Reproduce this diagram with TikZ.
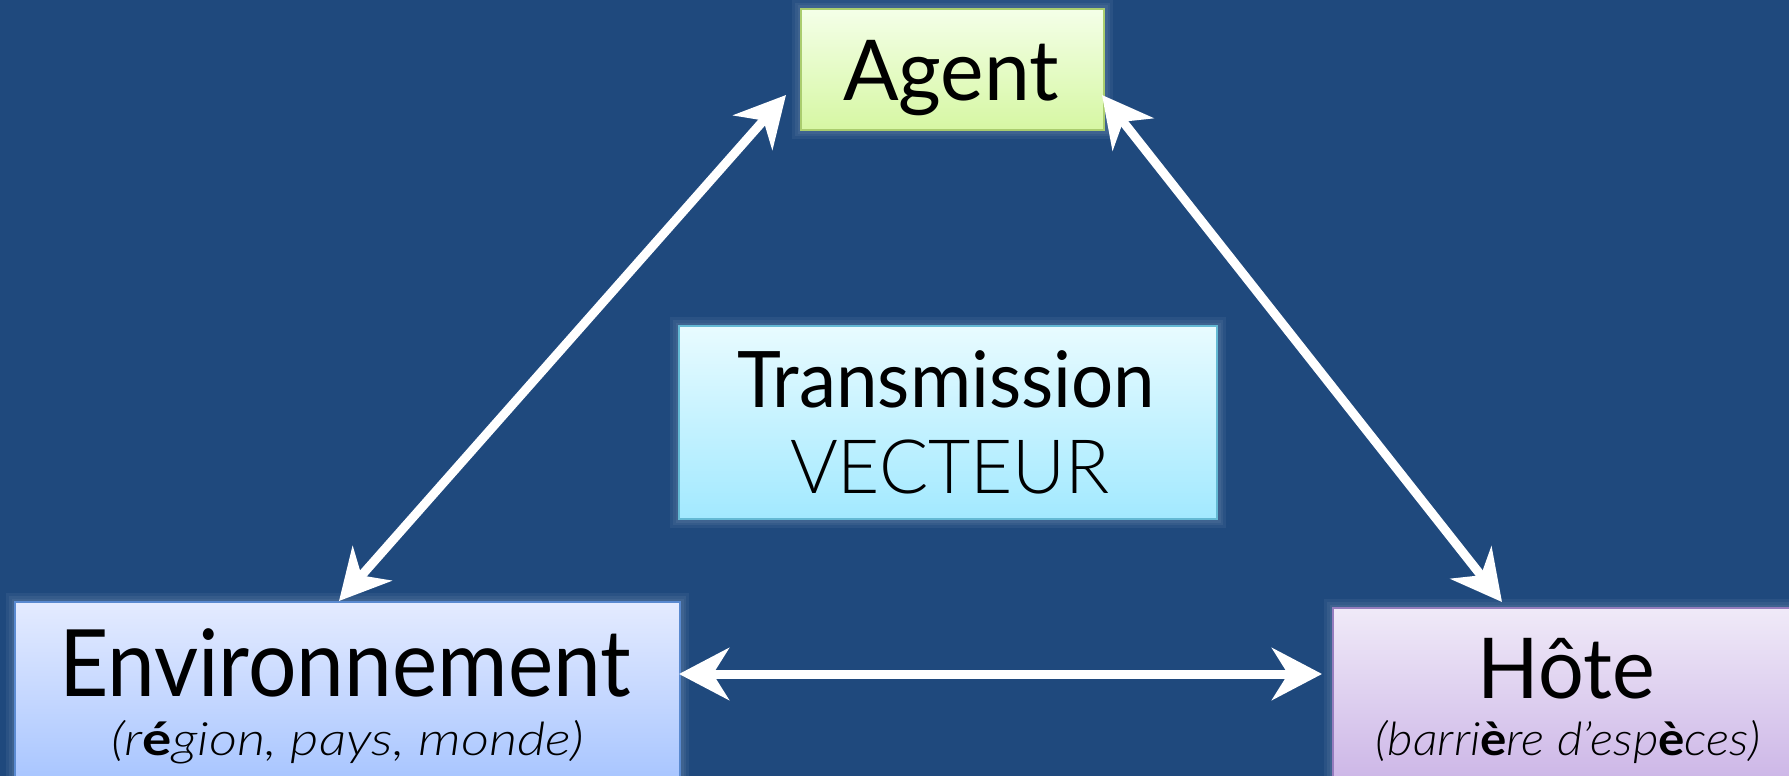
\documentclass[tikz,border=0pt]{standalone}
\usepackage{fontspec}
\setmainfont{Lato}
\newfontfamily\lightfont{Lato Light}
\usetikzlibrary{arrows.meta,backgrounds}
\definecolor{bgblue}{HTML}{1F497D}
\newcommand\fitw[2]{\resizebox{#1}{\height}{#2}}
\newcommand\bacc[1]{{\normalfont\bfseries #1}}
\tikzset{
  box/.style={rectangle, anchor=north west, inner sep=0pt, line width=2.2pt},
  txt/.style={inner sep=0pt, anchor=base, text=black},
  glow/.style={draw={rgb,255:red,200;green,210;blue,225}, line width=#1, draw opacity=0.07},
  conn/.style={draw=white, line width=9pt,
    {Stealth[length=50pt,width=52pt,inset=16pt]}-{Stealth[length=50pt,width=52pt,inset=16pt]}},
}
\begin{document}
\begin{tikzpicture}[x=1pt,y=-1pt]
\useasboundingbox (0,0) rectangle (1789,776);
\begin{scope}[on background layer]
\fill[bgblue] (0,0) rectangle (1789,776);
\end{scope}
\begin{scope}
\clip (0,0) rectangle (1789,776);
\node[box, draw={rgb,255:red,170;green,205;blue,110}, top color={rgb,255:red,244;green,255;blue,232}, bottom color={rgb,255:red,214;green,247;blue,163}, minimum width=303pt, minimum height=121pt] (agent) at (800,8) {};
\node[box, draw={rgb,255:red,100;green,185;blue,212}, top color={rgb,255:red,232;green,251;blue,255}, bottom color={rgb,255:red,162;green,233;blue,255}, minimum width=538pt, minimum height=193pt] (trans) at (678,325) {};
\node[box, draw={rgb,255:red,90;green,138;blue,208}, top color={rgb,255:red,228;green,235;blue,255}, bottom color={rgb,255:red,166;green,196;blue,255}, minimum width=665pt, minimum height=185pt] (env) at (14,601) {};
\node[box, draw={rgb,255:red,150;green,125;blue,190}, top color={rgb,255:red,240;green,234;blue,248}, bottom color={rgb,255:red,203;green,180;blue,230}, minimum width=470pt, minimum height=180pt] (hote) at (1332,607) {};
\begin{scope}[on background layer]
\foreach \b in {agent,trans,env,hote}{
  \draw[glow=16pt] (\b.north west) rectangle (\b.south east);
  \draw[glow=10pt] (\b.north west) rectangle (\b.south east);
  \draw[glow=5pt] (\b.north west) rectangle (\b.south east);
}
\end{scope}
\end{scope}

\node[txt] (tagent) at (951,100) {\fontsize{84}{90}\selectfont\fitw{216pt}{Agent}};
\node[txt] (ttrans) at (946,407) {\fontsize{78}{84}\selectfont\fitw{418pt}{Transmission}};
\node[txt] (tvect) at (950,493) {\fontsize{75}{80}\selectfont\lightfont\fitw{320pt}{VECTEUR}};
\node[txt] (tenv) at (345,696) {\fontsize{93}{100}\selectfont\fitw{572pt}{Environnement}};
\node[txt] (senv) at (348,755) {\fontsize{46}{50}\selectfont\lightfont\itshape\fitw{472pt}{(r\bacc{é}gion, pays, monde)}};
\node[txt] (thote) at (1566,698) {\fontsize{84}{90}\selectfont\fitw{177pt}{Hôte}};
\node[txt] (shote) at (1568,755) {\fontsize{46}{50}\selectfont\lightfont\itshape\fitw{385pt}{(barri\bacc{è}re d’esp\bacc{è}ces)}};

\coordinate (a1a) at (786,95);
\coordinate (a1e) at (339,601);
\coordinate (a2a) at (1102,95);
\coordinate (a2h) at (1502,602);
\coordinate (a3e) at (679,674);
\coordinate (a3h) at (1322,674);
\draw[conn] (a1a) -- (a1e);
\draw[conn] (a2a) -- (a2h);
\draw[conn] (a3e) -- (a3h);
\end{tikzpicture}
\end{document}
